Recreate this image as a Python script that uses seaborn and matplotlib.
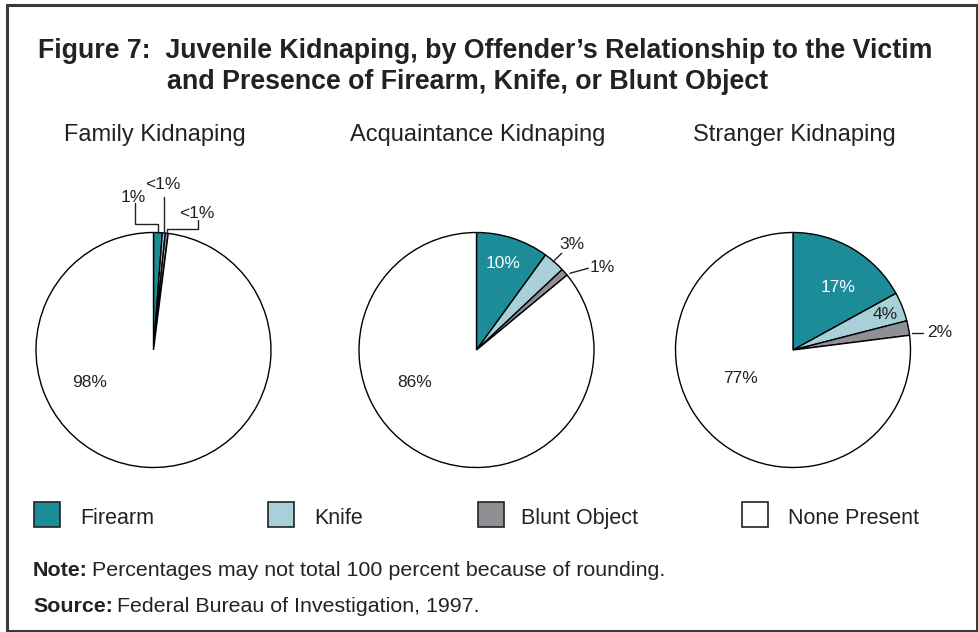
import numpy as np
import seaborn as sns
import matplotlib.pyplot as plt
from matplotlib.patches import Rectangle

# Data
groups = ["Family Kidnaping", "Acquaintance Kidnaping", "Stranger Kidnaping"]
categories = ["Firearm", "Knife", "Blunt Object", "None Present"]
family = [1.2, 0.4, 0.4, 98]
acquaintance = [10, 3, 1, 86]
stranger = [17, 4, 2, 77]
family_labels = ["1%", "<1%", "<1%", "98%"]
acquaintance_labels = ["10%", "3%", "1%", "86%"]
stranger_labels = ["17%", "4%", "2%", "77%"]

colors = sns.color_palette(["#1b8c98", "#a9d0d8", "#8e9094", "#ffffff"])

sns.set_style("white")
plt.rcParams["font.family"] = ["Liberation Sans", "DejaVu Sans"]

W, H = 979, 632
fig = plt.figure(figsize=(W / 100, H / 100), dpi=100)


def fx(x):
    return x / W


def fy(y):
    return 1 - y / H


# outer frame
fig.patches.append(Rectangle((fx(7), fy(631)), fx(970), 626 / H, transform=fig.transFigure,
                             fill=False, edgecolor="#3a3a3a", linewidth=2.2))

fig.text(fx(38), fy(58), "Figure 7:  Juvenile Kidnaping, by Offender\u2019s Relationship to the Victim",
         fontsize=19.3, fontweight="bold", va="baseline", ha="left", color="#222222")
fig.text(fx(167), fy(89), "and Presence of Firearm, Knife, or Blunt Object",
         fontsize=19.3, fontweight="bold", va="baseline", ha="left", color="#222222")

# label layout per pie: (x, y, colour) in pie units, plus leader lines
layouts = [
    {
        "center": 153.5,
        "values": family,
        "labels": family_labels,
        "pos": [(-0.17, 1.30, "#222"), (0.081, 1.405, "#222"), (0.37, 1.16, "#222"), (-0.54, -0.28, "#222")],
        "leaders": [
            [(-0.157, 1.251), (-0.157, 1.072), (0.038, 1.072), (0.038, 0.996)],
            [(0.089, 1.302), (0.089, 0.996)],
            [(0.381, 1.106), (0.381, 1.027), (0.112, 1.027), (0.112, 0.993)],
        ],
    },
    {
        "center": 476.5,
        "values": acquaintance,
        "labels": acquaintance_labels,
        "pos": [(0.23, 0.736, "white"), (0.809, 0.894, "#222"), (1.068, 0.698, "#222"), (-0.523, -0.28, "#222")],
        "leaders": [
            [(0.651, 0.751), (0.725, 0.823)],
            [(0.796, 0.653), (0.951, 0.696)],
        ],
    },
    {
        "center": 793,
        "values": stranger,
        "labels": stranger_labels,
        "pos": [(0.383, 0.536, "white"), (0.787, 0.298, "#222"), (1.251, 0.145, "#222"), (-0.443, -0.24, "#222")],
        "leaders": [
            [(1.010, 0.147), (1.104, 0.147)],
        ],
    },
]

R = 117.5
CY = 350
for name, lay in zip(groups, layouts):
    cx = lay["center"]
    ax = fig.add_axes([fx(cx - R), fy(CY + R), 2 * R / W, 2 * R / H])
    ax.pie(lay["values"], colors=colors, startangle=90, counterclock=False, radius=1,
           wedgeprops=dict(edgecolor="black", linewidth=1.0))
    ax.set_xlim(-1, 1)
    ax.set_ylim(-1, 1)
    ax.axis("off")
    for lab, (x, y, c) in zip(lay["labels"], lay["pos"]):
        ax.text(x, y, lab, ha="center", va="center", fontsize=12.5, color=c, clip_on=False)
    for pts in lay["leaders"]:
        xs, ys = zip(*pts)
        ax.plot(xs, ys, color="#222222", linewidth=1.0, clip_on=False)
    fig.text(fx(cx + 1), fy(141), name, ha="center", va="baseline", fontsize=17, color="#222222")

# legend
legend_x = [34, 268, 478, 742]
text_x = [80, 314, 521, 788]
for cat, col, sx, tx in zip(categories, colors, legend_x, text_x):
    fig.patches.append(Rectangle((fx(sx), fy(527)), 26 / W, 25 / H, transform=fig.transFigure,
                                 facecolor=col, edgecolor="#222222", linewidth=1.2))
    fig.text(fx(tx), fy(524), cat, ha="left", va="baseline", fontsize=15.5, color="#222222")

# notes
t = fig.text(fx(33), fy(576), "Note:", ha="left", va="baseline", fontsize=15.4, fontweight="bold", color="#222222")
fig.canvas.draw()
bb = t.get_window_extent()
fig.text(bb.x1 / W + fx(4), fy(576), "Percentages may not total 100 percent because of rounding.",
         ha="left", va="baseline", fontsize=15.4, color="#222222")
t2 = fig.text(fx(33), fy(612), "Source:", ha="left", va="baseline", fontsize=15.4, fontweight="bold", color="#222222")
fig.canvas.draw()
bb2 = t2.get_window_extent()
fig.text(bb2.x1 / W + fx(4), fy(612), "Federal Bureau of Investigation, 1997.",
         ha="left", va="baseline", fontsize=15.4, color="#222222")

fig.savefig("out.png", dpi=100)
